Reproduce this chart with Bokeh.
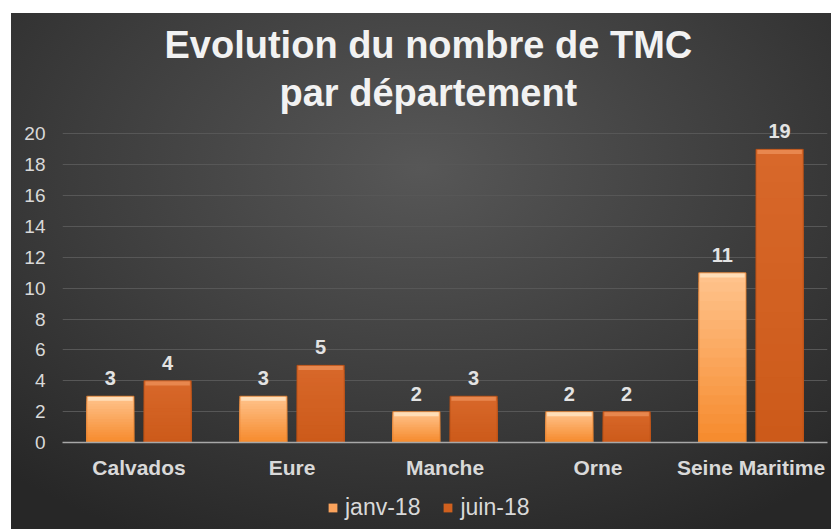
from bokeh.plotting import figure
from bokeh.layouts import column
from bokeh.models import ColumnDataSource, Legend, LegendItem, Title
from bokeh.transform import dodge
from bokeh.core.properties import value
from bokeh.embed import file_html
from bokeh.resources import INLINE

# ---- data ----
categories = ["Calvados", "Eure", "Manche", "Orne", "Seine Maritime"]
janv_18 = [3, 3, 2, 2, 11]
juin_18 = [4, 5, 3, 2, 19]
series_names = ["janv-18", "juin-18"]
y_ticks = [0, 2, 4, 6, 8, 10, 12, 14, 16, 18, 20]
title_lines = ["Evolution du nombre de TMC", "par département"]

FONT = "Liberation Sans"
LIGHT_TXT = "#d9d9d9"

p = figure(x_range=categories, y_range=(0, 21), width=831, height=490,
           output_backend="svg", toolbar_location=None,
           min_border_left=62, min_border_right=4,
           min_border_top=118, min_border_bottom=48)
p.background_fill_color = None
p.border_fill_color = None
p.outline_line_color = None

BW = 0.309
OFF = 0.187


def hex_to_rgb(h):
    h = h.lstrip("#")
    return tuple(int(h[i:i + 2], 16) for i in (0, 2, 4))


def interp(c1, c2, t):
    a, b = hex_to_rgb(c1), hex_to_rgb(c2)
    return "#%02x%02x%02x" % tuple(round(a[i] + (b[i] - a[i]) * t) for i in range(3))


series = [
    (janv_18, -OFF, "#f68a2c", "#ffc48e", "#ffe3bf", "#e07a28"),
    (juin_18, OFF, "#cc5a1a", "#d8682a", "#eb8d55", "#b44d14"),
]
N = 18
for vals, off, c_bot, c_top, c_bevel, c_edge in series:
    xs = dodge("cat", off, range=p.x_range)
    for k in range(N - 1, -1, -1):
        frac = (k + 1) / N
        src = ColumnDataSource(dict(cat=categories, top=[v * frac for v in vals]))
        col = interp(c_bot, c_top, (k + 0.5) / N)
        p.vbar(x=xs, top="top", bottom=0, width=BW, source=src,
               fill_color=col, line_color=None)
    # top bevel highlight
    bsrc = ColumnDataSource(dict(cat=categories, top=list(vals), bot=[v - 0.3 for v in vals]))
    p.vbar(x=xs, top="top", bottom="bot", width=BW * 0.94, source=bsrc,
           fill_color=c_bevel, fill_alpha=0.85, line_color=None)
    # thin outline
    osrc = ColumnDataSource(dict(cat=categories, top=list(vals)))
    p.vbar(x=xs, top="top", bottom=0, width=BW, source=osrc,
           fill_color=None, line_color=c_edge, line_width=1, line_alpha=0.8)
    # value labels
    lsrc = ColumnDataSource(dict(cat=categories, v=list(vals), t=[str(v) for v in vals]))
    p.text(x=xs, y="v", text="t", source=lsrc, y_offset=-18,
           text_align="center", text_baseline="alphabetic",
           text_font=value(FONT), text_font_style="bold",
           text_font_size="20px", text_color="#e3e3e3")

# axes
p.yaxis.ticker = y_ticks
p.yaxis.axis_line_color = None
p.yaxis.major_tick_line_color = None
p.yaxis.minor_tick_line_color = None
p.yaxis.major_tick_out = 0
p.yaxis.major_label_standoff = 17
p.yaxis.major_label_text_font = FONT
p.yaxis.major_label_text_font_size = "19px"
p.yaxis.major_label_text_color = LIGHT_TXT

p.xaxis.axis_line_color = "#a8a8a8"
p.xaxis.axis_line_width = 1.5
p.xaxis.major_tick_line_color = None
p.xaxis.minor_tick_line_color = None
p.xaxis.major_tick_out = 0
p.xaxis.major_label_standoff = 13
p.xaxis.major_label_text_font = FONT
p.xaxis.major_label_text_font_style = "bold"
p.xaxis.major_label_text_font_size = "21px"
p.xaxis.major_label_text_color = LIGHT_TXT

p.xgrid.grid_line_color = None
p.ygrid.grid_line_color = "#575757"
p.ygrid.grid_line_width = 1

# title (two lines)
title_style = dict(align="left", text_font=FONT, text_font_style="bold",
                   text_font_size="38px", text_color="#f2f2f2")
p.title.text = title_lines[0]
p.title.offset = 102
p.title.standoff = 0
for k, v in title_style.items():
    setattr(p.title, k, v)
p.add_layout(Title(text=title_lines[1], offset=217, standoff=9, **title_style), "above")

# legend strip (separate small figure so the legend is not clipped)
lp = figure(width=831, height=39, x_range=(0, 1), y_range=(0, 1),
            x_axis_location=None, y_axis_location=None,
            output_backend="svg", toolbar_location=None, min_border=0)
lp.background_fill_color = None
lp.border_fill_color = None
lp.outline_line_color = None
lp.xgrid.grid_line_color = None
lp.ygrid.grid_line_color = None
legend_colors = ["#fba35c", "#d0601e"]
nan = float("nan")
lrs = [lp.vbar(x=[nan], top=[nan], width=0.1, fill_color=c, line_color=None) for c in legend_colors]
legend = Legend(items=[LegendItem(label=n, renderers=[r]) for n, r in zip(series_names, lrs)],
                location=(265, 8), orientation="horizontal",
                background_fill_alpha=0, border_line_color=None,
                label_text_font=FONT, label_text_font_size="23px",
                label_text_color=LIGHT_TXT, glyph_width=11, glyph_height=11,
                label_standoff=7, spacing=22, padding=0, margin=0)
lp.add_layout(legend)

layout = column(p, lp, spacing=0, styles={
    "background": "radial-gradient(ellipse 75% 80% at 50% 30%, #575757 0%, #3d3d3d 55%, #272727 100%) "
                  "11px 13px / calc(100% - 11px) calc(100% - 13px) no-repeat, #ffffff"
})

open("out.html", "w").write(file_html(layout, INLINE))
